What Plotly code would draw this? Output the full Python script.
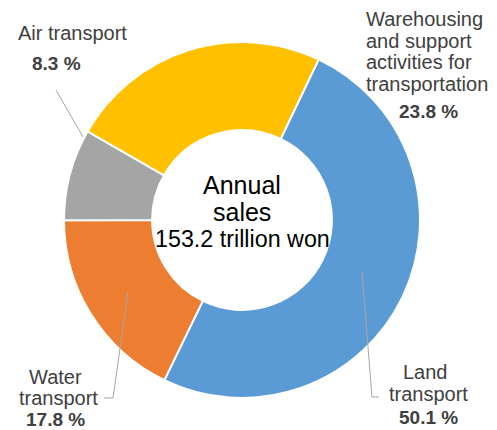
import plotly.graph_objects as go

W, H = 497, 430
# the page body has an 8px margin; positions below are given in window pixels
OFF = 8

categories = ["Land transport", "Water transport", "Air transport",
              "Warehousing and support activities for transportation"]
shares = [50.1, 17.8, 8.3, 23.8]
colors = ["#5B9BD5", "#ED7D31", "#A5A5A5", "#FFC000"]
total_text = ["Annual", "sales", "153.2 trillion won"]

name_lines = {
    "Land transport": ["Land", "transport"],
    "Water transport": ["Water", "transport"],
    "Air transport": ["Air transport"],
    "Warehousing and support activities for transportation":
        ["Warehousing", "and support", "activities for", "transportation"],
}

cx, cy, R = 242 - OFF, 220 - OFF, 178

fig = go.Figure(go.Pie(
    labels=categories, values=shares, sort=False, direction="clockwise",
    rotation=25.5, hole=0.505,
    marker=dict(colors=colors, line=dict(color="white", width=2)),
    textinfo="none", hoverinfo="label+percent", showlegend=False,
    domain=dict(x=[(cx - R) / W, (cx + R) / W], y=[(H - cy - R) / H, (H - cy + R) / H]),
))

def px(x): return (x - OFF) / W
def py(y): return 1 - (y - OFF) / H

ann = []
def add_text(t, x, y, size, color="#404040", bold=False, xanchor="center", family="Arial, Liberation Sans"):
    ann.append(dict(text=("<b>%s</b>" % t) if bold else t, x=px(x), y=py(y),
                    xref="paper", yref="paper", xanchor=xanchor, yanchor="middle",
                    showarrow=False, font=dict(size=size, color=color, family=family)))

# center text
add_text(total_text[0], 242, 185, 25, color="#000000")
add_text(total_text[1], 242, 212, 25, color="#000000")
add_text(total_text[2], 242, 239, 23.3, color="#000000")

pct = ["%.1f %%" % v for v in shares]

# Land transport
add_text(name_lines[categories[0]][0], 425, 372, 20)
add_text(name_lines[categories[0]][1], 428, 394, 20)
add_text(pct[0], 428, 417, 19, bold=True)
# Water transport
add_text(name_lines[categories[1]][0], 55, 377, 20)
add_text(name_lines[categories[1]][1], 58, 398, 20)
add_text(pct[1], 55, 419, 19, bold=True)
# Air transport
add_text(name_lines[categories[2]][0], 72, 33, 20)
add_text(pct[2], 56, 63, 19, bold=True)
# Warehousing
for i, t in enumerate(name_lines[categories[3]]):
    add_text(t, 364, 19 + i * 21.5, 20, xanchor="left")
add_text(pct[3], 428, 112, 19, bold=True)

lc = dict(color="#A6A6A6", width=1)
shapes = [
    dict(type="path", xref="paper", yref="paper",
         path="M %f,%f L %f,%f" % (px(56), py(90), px(83), py(137)), line=lc),
    dict(type="path", xref="paper", yref="paper",
         path="M %f,%f L %f,%f L %f,%f" % (px(104), py(398), px(113), py(398), px(128), py(292)), line=lc),
    dict(type="path", xref="paper", yref="paper",
         path="M %f,%f L %f,%f L %f,%f" % (px(362), py(272), px(372), py(397), px(379), py(397)), line=lc),
]

fig.update_layout(width=W, height=H, margin=dict(l=0, r=0, t=0, b=0),
                  paper_bgcolor="white", plot_bgcolor="white",
                  annotations=ann, shapes=shapes)
fig.write_html("out.html")
